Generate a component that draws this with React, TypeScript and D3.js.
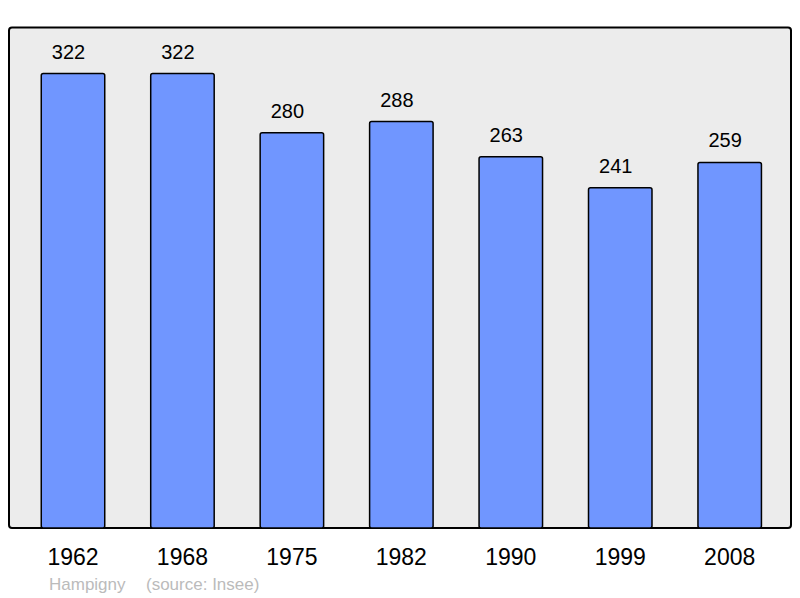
import React from "react";
import * as d3 from "d3";

const years = ["1962", "1968", "1975", "1982", "1990", "1999", "2008"];
const population = [322, 322, 280, 288, 263, 241, 259];
const commune = "Hampigny";
const source = "(source: Insee)";

export default function App() {
  const W = 800, H = 598;
  const panel = { x: 9, y: 27.5, w: 782, h: 500.5 };
  const x = d3.scalePoint<string>().domain(years).range([73, 729.7]);
  const step = x.step();
  const bw = step * 0.58;
  const y = d3.scaleLinear().domain([0, 354.6]).range([panel.y + panel.h, panel.y]);
  const font = "'Liberation Sans', Arial, sans-serif";
  return (
    <svg width={W} height={H} style={{ position: "absolute", left: 0, top: 0 }} fontFamily={font}>
      <rect x={0} y={0} width={W} height={H} fill="#fff" />
      <rect x={panel.x} y={panel.y} width={panel.w} height={panel.h} rx={3} fill="#ececec" stroke="#000" strokeWidth={2} />
      {years.map((yr, i) => {
        const cx = x(yr)!;
        const top = y(population[i]);
        return (
          <g key={yr}>
            <rect x={cx - bw / 2} y={top} width={bw} height={y(0) - top} rx={2} fill="#7096ff" stroke="#000" strokeWidth={1.5} />
            <text x={cx - 4.5} y={top - 15} textAnchor="middle" fontSize={20} fill="#000">{population[i]}</text>
            <text x={cx} y={565} textAnchor="middle" fontSize={23} fill="#000">{yr}</text>
          </g>
        );
      })}
      <text x={49} y={590} fontSize={17} fill="#bbb">{commune}</text>
      <text x={146} y={590} fontSize={17} fill="#bbb">{source}</text>
    </svg>
  );
}
